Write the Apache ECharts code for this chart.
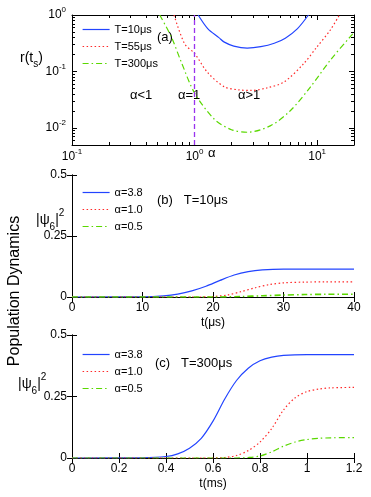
<!DOCTYPE html>
<html>
<head>
<meta charset="utf-8">
<script src="https://cdn.jsdelivr.net/npm/echarts@6/dist/echarts.min.js"></script>
<style>
  html, body { margin: 0; padding: 0; background: #fff; }
  #main { width: 371px; height: 497px; }
</style>
</head>
<body>
<div id="main"></div>
<script>
// panel (a): r(t_s) vs alpha
const alphaT10 = [1.07, 1.28, 1.58, 1.75, 2.09, 2.69, 3.47, 4.47, 5.50, 6.92, 8.5];
const rT10 = [1.0, 0.575, 0.398, 0.331, 0.282, 0.26, 0.275, 0.316, 0.389, 0.575, 1.0];
const alphaT55 = [0.68, 0.83, 1.0, 1.28, 1.75, 2.3, 2.9, 3.9, 5.36, 7.78, 9.98, 12.8, 15.2];
const rT55 = [1.0, 0.309, 0.209, 0.0955, 0.0537, 0.0473, 0.0462, 0.0513, 0.065, 0.138, 0.273, 0.541, 1.0];
const alphaT300 = [0.52, 0.647, 0.78, 1.0, 1.45, 2.0, 2.7, 4.18, 6.07, 8.81, 12.8, 18.6, 20];
const rT300 = [1.0, 0.407, 0.146, 0.0417, 0.0143, 0.00933, 0.00841, 0.011, 0.0204, 0.053, 0.158, 0.411, 0.49];

// panel (b): T=10us, t in us
const tB38 = [0, 10, 13, 15, 17, 19, 21, 23, 25, 27, 30, 35, 40];
const pB38 = [0, 0.001, 0.005, 0.012, 0.025, 0.044, 0.068, 0.09, 0.104, 0.111, 0.114, 0.114, 0.114];
const tB10 = [0, 18, 20, 22, 24, 26, 28, 30, 33, 36, 40];
const pB10 = [0, 0, 0.002, 0.008, 0.022, 0.038, 0.051, 0.058, 0.061, 0.062, 0.062];
const tB05 = [0, 20, 24, 27, 30, 33, 36, 40];
const pB05 = [0, 0, 0.002, 0.005, 0.008, 0.010, 0.011, 0.011];

// panel (c): T=300us, t in ms
const tC38 = [0, 0.3, 0.4, 0.45, 0.5, 0.55, 0.6, 0.65, 0.7, 0.75, 0.8, 0.85, 0.9, 1.0, 1.2];
const pC38 = [0, 0.001, 0.006, 0.017, 0.04, 0.08, 0.15, 0.24, 0.315, 0.365, 0.395, 0.41, 0.417, 0.42, 0.42];
const tC10 = [0, 0.6, 0.65, 0.7, 0.75, 0.8, 0.85, 0.9, 0.95, 1.0, 1.05, 1.1, 1.2];
const pC10 = [0, 0, 0.002, 0.01, 0.03, 0.065, 0.12, 0.195, 0.245, 0.27, 0.28, 0.285, 0.287];
const tC05 = [0, 0.7, 0.75, 0.8, 0.85, 0.9, 0.95, 1.0, 1.05, 1.1, 1.2];
const pC05 = [0, 0, 0.002, 0.008, 0.025, 0.048, 0.065, 0.075, 0.08, 0.082, 0.083];

const namesA = ['T=10μs', 'T=55μs', 'T=300μs'];
const namesBC = ['α=3.8', 'α=1.0', 'α=0.5'];

const FONT = 'Liberation Sans, Arial, sans-serif';
const BLUE = '#2244ff', RED = '#ff2a2a', GREEN = '#5ad800', PURPLE = '#9933ee';

const zip = (xs, ys) => xs.map((x, i) => [x, ys[i]]);

const logLabel = (v) => '{b|10}{s|' + Math.round(Math.log10(v)) + '}';
const supRich = {
  b: { fontSize: 12, fontFamily: FONT, color: '#000', lineHeight: 18 },
  s: { fontSize: 8, fontFamily: FONT, color: '#000', verticalAlign: 'top', lineHeight: 18 }
};

const axLine = { lineStyle: { color: '#000', width: 1 } };
const axTick = { inside: true, length: 5, lineStyle: { color: '#000' } };
const logMinor = { show: true, splitNumber: 9, length: 3, lineStyle: { color: '#000' } };

function xAx(grid, opts, mirror) {
  return Object.assign({
    gridIndex: grid,
    position: mirror ? 'top' : 'bottom',
    axisLine: axLine,
    axisTick: axTick,
    splitLine: { show: false },
    axisLabel: mirror ? { show: false } : { color: '#000', fontSize: 12, fontFamily: FONT, margin: 5 },
  }, opts);
}
function yAx(grid, opts, mirror) {
  return Object.assign({
    gridIndex: grid,
    position: mirror ? 'right' : 'left',
    axisLine: axLine,
    axisTick: axTick,
    splitLine: { show: false },
    axisLabel: mirror ? { show: false } : { color: '#000', fontSize: 12, fontFamily: FONT, margin: 5 },
  }, opts);
}

const logX = { type: 'log', logBase: 10, min: 0.1, max: 20, minorTick: logMinor };
const logY = { type: 'log', logBase: 10, min: 0.005, max: 1, minorTick: logMinor };

function line(name, data, xi, yi, color, dash, width) {
  return {
    name: name, type: 'line', data: data,
    xAxisIndex: xi, yAxisIndex: yi,
    showSymbol: false, symbol: 'none', smooth: 0.3,
    lineStyle: { color: color, width: width || 1.2, type: dash },
    itemStyle: { color: color },
    animation: false, silent: true
  };
}

const legendBase = {
  orient: 'vertical', left: 82, padding: 0,
  itemWidth: 27, itemHeight: 10, itemGap: 6,
  itemStyle: { color: 'rgba(0,0,0,0)', borderWidth: 0, opacity: 0 },
  lineStyle: { width: 1.2 },
  textStyle: { fontSize: 11, fontFamily: FONT, color: '#000', padding: [0, 0, 0, 0] },
  selectedMode: false
};

const psiRich = {
  n: { fontSize: 14, fontFamily: FONT, lineHeight: 24 },
  d: { fontSize: 10, fontFamily: FONT, verticalAlign: 'bottom', lineHeight: 24 },
  s: { fontSize: 10, fontFamily: FONT, verticalAlign: 'top', lineHeight: 24 }
};

const chart = echarts.init(document.getElementById('main'));
chart.setOption({
  backgroundColor: '#fff',
  animation: false,
  grid: [
    { left: 72, top: 15, width: 282, height: 130 },
    { left: 72, top: 175, width: 282, height: 122 },
    { left: 72, top: 335, width: 282, height: 123 }
  ],
  xAxis: [
    xAx(0, Object.assign({}, logX, {
      axisLabel: { color: '#000', margin: 3, formatter: logLabel, rich: supRich, showMaxLabel: false, showMinLabel: true }
    })),
    xAx(0, logX, true),
    xAx(1, {
      type: 'value', min: 0, max: 40, interval: 10,
      name: 't(μs)', nameLocation: 'middle', nameGap: 20,
      nameTextStyle: { fontSize: 12, fontFamily: FONT, color: '#000' }
    }),
    xAx(1, { type: 'value', min: 0, max: 40, interval: 10 }, true),
    xAx(2, {
      type: 'value', min: 0, max: 1.2, interval: 0.2,
      name: 't(ms)', nameLocation: 'middle', nameGap: 20,
      nameTextStyle: { fontSize: 12, fontFamily: FONT, color: '#000' }
    }),
    xAx(2, { type: 'value', min: 0, max: 1.2, interval: 0.2 }, true)
  ],
  yAxis: [
    yAx(0, Object.assign({}, logY, {
      axisLabel: { color: '#000', margin: 6, formatter: logLabel, rich: supRich, showMinLabel: false, showMaxLabel: true }
    })),
    yAx(0, logY, true),
    yAx(1, { type: 'value', min: 0, max: 0.5, interval: 0.25 }),
    yAx(1, { type: 'value', min: 0, max: 0.5, interval: 0.25 }, true),
    yAx(2, { type: 'value', min: 0, max: 0.5, interval: 0.25 }),
    yAx(2, { type: 'value', min: 0, max: 0.5, interval: 0.25 }, true)
  ],
  legend: [
    Object.assign({}, legendBase, { top: 24, data: namesA }),
    Object.assign({}, legendBase, { top: 187, data: namesBC }),
    Object.assign({}, legendBase, { top: 349, data: namesBC })
  ],
  series: [
    line(namesA[0], zip(alphaT10, rT10), 0, 0, BLUE, 'solid'),
    line(namesA[1], zip(alphaT55, rT55), 0, 0, RED, [1.5, 2.5]),
    Object.assign(line(namesA[2], zip(alphaT300, rT300), 0, 0, GREEN, [6, 3, 1.5, 3]), {
      markLine: {
        silent: true, symbol: 'none', animation: false,
        label: { show: false },
        lineStyle: { color: PURPLE, type: [5, 3], width: 1.3 },
        data: [{ xAxis: 1 }]
      }
    }),
    line(namesBC[0], zip(tB38, pB38), 2, 2, BLUE, 'solid'),
    line(namesBC[1], zip(tB10, pB10), 2, 2, RED, [1.5, 2.5]),
    line(namesBC[2], zip(tB05, pB05), 2, 2, GREEN, [6, 3, 1.5, 3], 1.6),
    line(namesBC[0], zip(tC38, pC38), 4, 4, BLUE, 'solid'),
    line(namesBC[1], zip(tC10, pC10), 4, 4, RED, [1.5, 2.5]),
    line(namesBC[2], zip(tC05, pC05), 4, 4, GREEN, [6, 3, 1.5, 3])
  ],
  graphic: [
    { type: 'text', x: 20, y: 58, style: {
      text: '{n|r(t}{d|s}{n|)}', verticalAlign: 'middle',
      rich: { n: { fontSize: 14, fontFamily: FONT, lineHeight: 22 }, d: { fontSize: 10, fontFamily: FONT, verticalAlign: 'bottom', lineHeight: 22 } }
    } },
    { type: 'text', x: 208, y: 153, style: { text: 'α', fontSize: 13, fontFamily: FONT, fill: '#000', verticalAlign: 'middle' } },
    { type: 'text', x: 15, y: 291, rotation: Math.PI / 2, style: {
      text: 'Population Dynamics', fontSize: 16, fontFamily: FONT, fill: '#000', align: 'center', verticalAlign: 'middle'
    } },
    { type: 'text', x: 36, y: 220, style: { text: '{n||ψ}{d|6}{n||}{s|2}', verticalAlign: 'middle', rich: psiRich } },
    { type: 'text', x: 18, y: 384, style: { text: '{n||ψ}{d|6}{n||}{s|2}', verticalAlign: 'middle', rich: psiRich } },
    { type: 'text', x: 157, y: 37, style: { text: '(a)', fontSize: 13, fontFamily: FONT, fill: '#000', verticalAlign: 'middle' } },
    { type: 'text', x: 130, y: 95, style: { text: 'α<1', fontSize: 13, fontFamily: FONT, fill: '#000', verticalAlign: 'middle' } },
    { type: 'text', x: 178, y: 95, style: { text: 'α=1', fontSize: 13, fontFamily: FONT, fill: '#000', verticalAlign: 'middle' } },
    { type: 'text', x: 238, y: 95, style: { text: 'α>1', fontSize: 13, fontFamily: FONT, fill: '#000', verticalAlign: 'middle' } },
    { type: 'text', x: 157, y: 200, style: { text: '(b)   T=10μs', fontSize: 13, fontFamily: FONT, fill: '#000', verticalAlign: 'middle' } },
    { type: 'text', x: 155, y: 363, style: { text: '(c)   T=300μs', fontSize: 13, fontFamily: FONT, fill: '#000', verticalAlign: 'middle' } }
  ]
});
</script>
</body>
</html>
